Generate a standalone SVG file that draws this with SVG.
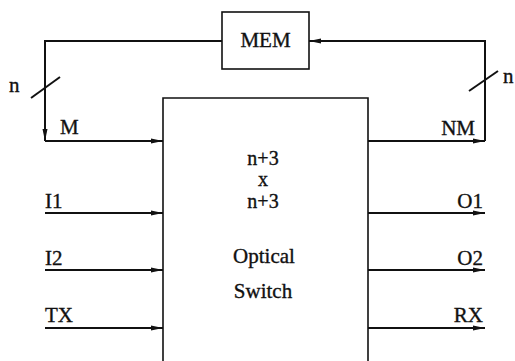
<svg xmlns="http://www.w3.org/2000/svg" width="515" height="361" viewBox="0 0 515 361">
<style>
.t{font-family:"Liberation Serif","Times New Roman",serif;font-size:21px;fill:#111;stroke:#111;stroke-width:0.35}
.c{font-size:20px}
.box{fill:none;stroke:#111;stroke-width:1.6}
.ln{fill:none;stroke:#111;stroke-width:2}
</style>
<defs>
<marker id="ah" viewBox="0 0 12 6" refX="12" refY="3" markerWidth="12" markerHeight="6" markerUnits="userSpaceOnUse" orient="auto">
<path d="M0,0.5 L12,3 L0,5.5 Z" fill="#111"/>
</marker>
</defs>
<rect width="515" height="361" fill="#fff"/>
<g id="mem">
<rect class="box" x="222" y="12" width="87" height="57"/>
<text class="t" x="265.5" y="47" text-anchor="middle">MEM</text>
</g>
<g id="switch">
<path class="box" d="M163,365 L163,98 L368,98 L368,365"/>
<text class="t c" x="263" y="165" text-anchor="middle">n+3</text>
<text class="t c" x="263" y="186" text-anchor="middle">x</text>
<text class="t c" x="263" y="208" text-anchor="middle">n+3</text>
<text class="t" x="264" y="263" text-anchor="middle">Optical</text>
<text class="t" x="263" y="298" text-anchor="middle">Switch</text>
</g>
<g id="connectors">
<path class="ln" d="M222,41 L45,41 L45,141" marker-end="url(#ah)"/>
<path class="ln" d="M45,141 L163,141" marker-end="url(#ah)"/>
<path class="ln" d="M368,141 L485,141" marker-end="url(#ah)"/>
<path class="ln" d="M485,141 L485,41 L309,41" marker-end="url(#ah)"/>
<path class="ln" d="M45,213 L163,213" marker-end="url(#ah)"/>
<path class="ln" d="M45,270 L163,270" marker-end="url(#ah)"/>
<path class="ln" d="M45,328 L163,328" marker-end="url(#ah)"/>
<path class="ln" d="M368,213 L485,213" marker-end="url(#ah)"/>
<path class="ln" d="M368,270 L485,270" marker-end="url(#ah)"/>
<path class="ln" d="M368,328 L485,328" marker-end="url(#ah)"/>
<line class="ln" x1="31" y1="98" x2="60" y2="77" stroke-width="1.6"/>
<line class="ln" x1="469" y1="91" x2="498" y2="71" stroke-width="1.6"/>
</g>
<g id="labels">
<text class="t" x="9" y="92">n</text>
<text class="t" x="503" y="83">n</text>
<text class="t" x="60" y="134">M</text>
<text class="t" x="475" y="135" text-anchor="end">NM</text>
<text class="t" x="45" y="208">I1</text>
<text class="t" x="45" y="265">I2</text>
<text class="t" x="45" y="322">TX</text>
<text class="t" x="483" y="208" text-anchor="end">O1</text>
<text class="t" x="483" y="265" text-anchor="end">O2</text>
<text class="t" x="483" y="322" text-anchor="end">RX</text>
</g>
</svg>
